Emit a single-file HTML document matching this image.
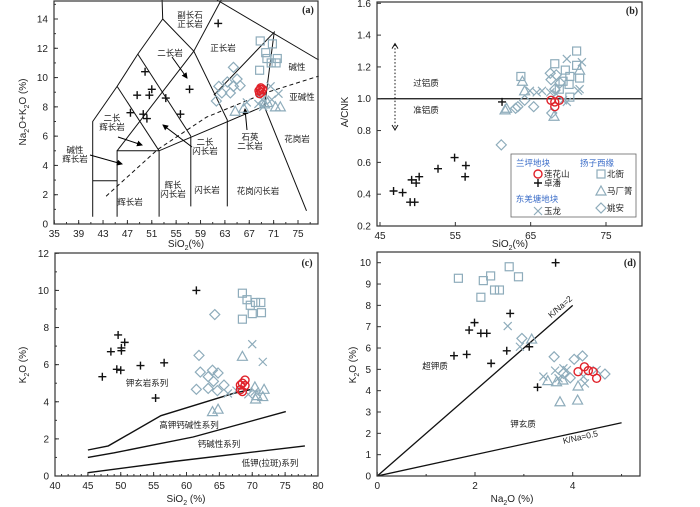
<!DOCTYPE html>
<html><head><meta charset="utf-8">
<style>
html,body{margin:0;padding:0;background:#fff;}
svg{display:block;font-family:"Liberation Sans","Noto Sans CJK SC",sans-serif;}
.t{font-size:10px;fill:#222;}
.cn{font-size:8.5px;fill:#222;}
</style></head>
<body>
<svg id="chart" width="700" height="507" viewBox="0 0 700 507" xmlns="http://www.w3.org/2000/svg">
<defs>
<marker id="ah" markerWidth="6" markerHeight="6" refX="5" refY="3" orient="auto"><path d="M0,0 L6,3 L0,6 z" fill="#000"/></marker>
</defs>
</svg>
<script>
// ---------- Panel (a) TAS data ----------
const aCross=[[61.9,13.7],[49.9,10.4],[51.0,9.2],[50.6,8.8],[48.6,8.8],[47.5,7.6],[49.6,7.5],[50.2,7.2],[53.3,8.6],[55.7,7.5],[57.2,9.2]];
const aSquare=[[68.8,12.5],[70.8,12.3],[69.7,11.7],[69.9,11.3],[71.6,11.3],[70.6,11.0],[68.7,10.5],[71.4,11.0]];
const aDiamond=[[64.4,10.7],[62.0,9.4],[63.4,9.7],[64.4,9.4],[63.9,8.95],[65.5,9.45],[62.5,8.95],[65.0,9.9],[61.6,8.4]];
const aTriangle=[[64.7,7.7],[71.3,8.0],[72.1,8.0],[66.1,7.9],[69.5,8.2],[70.0,8.3]];
const aX=[[66.6,8.3],[70.5,9.4],[71.8,8.9],[69.1,8.5],[68.8,9.0],[70.7,8.5],[68.5,8.2],[69.3,8.0]];
const aCircle=[[68.6,9.1],[68.9,9.3],[69.2,9.2],[68.7,8.9],[69.0,9.0],[68.8,9.2]];
// ---------- Panel (b) A/CNK ----------
const bCross=[[46.8,0.42],[48.0,0.41],[49.0,0.35],[49.6,0.35],[49.2,0.49],[49.8,0.47],[50.2,0.51],[52.7,0.56],[54.9,0.63],[56.4,0.58],[56.3,0.51],[61.2,0.98]];
const bSquare=[[63.7,1.14],[68.2,1.22],[71.1,1.30],[71.1,1.21],[69.6,1.18],[70.2,1.14],[71.5,1.13],[70.1,1.09],[68.8,1.06],[70.2,1.01],[69.3,1.11]];
const bTriangle=[[61.6,0.93],[63.9,1.11],[68.1,0.89],[71.5,1.18],[64.2,1.05],[61.8,0.94]];
const bDiamond=[[61.1,0.71],[63.3,0.95],[65.4,0.95],[64.2,0.99],[67.8,0.91],[67.6,1.16],[68.4,1.15],[67.7,1.12],[68.2,1.06],[68.9,1.10],[63.0,0.94]];
const bX=[[69.8,1.25],[71.8,1.23],[65.8,1.04],[71.5,1.06],[71.3,1.05],[69.3,0.99],[66.5,1.05],[64.9,1.05],[69.8,0.98],[67.6,1.04],[68.4,1.03]];
const bCircle=[[67.7,0.99],[68.2,0.98],[68.8,0.99],[68.2,0.95]];
// ---------- Panel (c) K2O vs SiO2 ----------
const cCross=[[61.5,10.0],[49.6,7.6],[50.6,7.2],[48.5,6.7],[50.1,6.9],[50.1,6.75],[47.2,5.35],[49.4,5.75],[50.0,5.7],[53.0,5.95],[56.6,6.1],[55.3,4.2]];
const cSquare=[[68.5,9.85],[69.2,9.5],[69.7,9.2],[70.5,9.35],[71.3,9.35],[70.0,8.75],[71.4,8.8],[68.5,8.45]];
const cDiamond=[[64.3,8.7],[61.9,6.5],[62.1,5.6],[63.95,5.7],[64.8,5.55],[63.3,5.35],[61.5,4.67],[63.3,4.72],[64.7,4.6],[65.7,4.9],[64.1,5.1]];
const cTriangle=[[68.5,6.45],[63.95,3.47],[64.8,3.6],[71.6,4.28],[70.7,4.33],[71.8,4.67],[70.4,4.8],[70.5,4.15]];
const cX=[[70.0,7.1],[71.6,6.15],[66.3,4.45],[70.4,4.55],[69.4,4.4],[67.6,4.6]];
const cCircle=[[68.9,5.17],[68.2,4.9],[68.5,5.0],[68.5,4.55],[68.9,4.87],[68.2,4.65]];
const cLine1=[[45,1.4],[48.1,1.62],[56.1,3.25],[67.1,4.45],[69.9,4.67]];
const cLine2=[[45,1.0],[49,1.25],[61,2.1],[75.1,3.47]];
const cLine3=[[45,0.18],[58,0.78],[78,1.62]];
// ---------- Panel (d) K2O vs Na2O ----------
const dCross=[[3.65,10.0],[2.72,7.62],[1.99,7.19],[1.88,6.84],[2.12,6.69],[2.24,6.69],[1.57,5.64],[1.83,5.70],[2.65,5.87],[3.11,6.06],[2.33,5.28],[3.28,4.16]];
const dSquare=[[1.66,9.27],[2.17,9.16],[2.32,9.38],[2.70,9.81],[2.89,9.34],[2.12,8.38],[2.40,8.72],[2.50,8.72]];
const dX=[[2.67,7.03],[2.92,6.06],[3.81,5.05],[3.64,4.94],[3.40,4.66],[3.71,4.58],[4.22,4.66],[4.49,4.97],[4.25,4.34],[3.88,4.97]];
const dDiamond=[[2.96,6.45],[3.62,5.59],[4.03,5.47],[4.20,5.63],[4.66,4.78],[3.81,4.81],[3.95,4.6]];
const dTriangle=[[3.16,6.42],[3.74,3.48],[4.10,3.56],[3.49,4.47],[4.11,4.22],[3.67,4.42],[3.8,4.5]];
const dCircle=[[4.11,4.89],[4.24,5.12],[4.32,4.94],[4.42,4.89],[4.49,4.58]];
const dRatios=[2,0.5];
const dRatioMax=[4,5];

const NS="http://www.w3.org/2000/svg";
const svg=document.getElementById('chart');
const GREY="#8eacbb", RED="#e0222a", BLUE="#3a6cc8";
function el(tag,attrs,parent){const e=document.createElementNS(NS,tag);for(const k in attrs)e.setAttribute(k,attrs[k]);(parent||svg).appendChild(e);return e;}
function scale(d0,d1,p0,p1){return v=>p0+(v-d0)*(p1-p0)/(d1-d0);}
function txt(x,y,s,cls,anchor,name,parent){const t=el('text',{x:x,y:y,class:cls||'t','text-anchor':anchor||'middle'},parent);t.textContent=s;


return t;}
function marker(type,x,y,g){let e;
 if(type==='cross'){e=el('path',{d:`M${x-4},${y}H${x+4}M${x},${y-4}V${y+4}`,stroke:'#111','stroke-width':1.4},g);}
 else if(type==='x'){e=el('path',{d:`M${x-4},${y-4}L${x+4},${y+4}M${x-4},${y+4}L${x+4},${y-4}`,stroke:GREY,'stroke-width':1.2},g);}
 else if(type==='square'){e=el('rect',{x:x-4,y:y-4,width:8,height:8,fill:'none',stroke:GREY,'stroke-width':1.2},g);}
 else if(type==='diamond'){e=el('path',{d:`M${x},${y-5}L${x+5},${y}L${x},${y+5}L${x-5},${y}Z`,fill:'none',stroke:GREY,'stroke-width':1.2},g);}
 else if(type==='triangle'){e=el('path',{d:`M${x},${y-5}L${x+5},${y+4}L${x-5},${y+4}Z`,fill:'none',stroke:GREY,'stroke-width':1.2},g);}
 else {e=el('circle',{cx:x,cy:y,r:4,fill:'none',stroke:RED,'stroke-width':1.4},g);}
 
 
}
function series(arr,type,sx,sy,g){arr.forEach(p=>marker(type,sx(p[0]),sy(p[1]),g));}
function poly(arr,sx,sy,g,extra){const d=arr.map((p,i)=>(i?'L':'M')+sx(p[0]).toFixed(1)+','+sy(p[1]).toFixed(1)).join('');return el('path',Object.assign({d:d,fill:'none',stroke:'#111','stroke-width':1},extra||{}),g);}
function frame(g,x0,y0,x1,y1){const r=el('rect',{x:x0,y:y0,width:x1-x0,height:y1-y0,fill:'none',stroke:'#333','stroke-width':1.2},g);
 
 }
function axes(g,sx,sy,xt,yt,xfmt,yfmt,x0,y0,x1,y1,xminor,yminor){
 xt.forEach(v=>{const x=sx(v);el('line',{x1:x,x2:x,y1:y1,y2:y1-4,stroke:'#333'},g);txt(x,y1+13,xfmt(v),'t','middle','x-tick-label',g);});
 yt.forEach(v=>{const y=sy(v);el('line',{x1:x0,x2:x0+4,y1:y,y2:y,stroke:'#333'},g);txt(x0-6,y+3.5,yfmt(v),'t','end','y-tick-label',g);});
 (xminor||[]).forEach(v=>{const x=sx(v);el('line',{x1:x,x2:x,y1:y1,y2:y1-2,stroke:'#333'},g);});
 (yminor||[]).forEach(v=>{const y=sy(v);el('line',{x1:x0,x2:x0+2,y1:y,y2:y,stroke:'#333'},g);});
}
function range(a,b,s){const r=[];for(let v=a;v<=b+1e-9;v+=s)r.push(+v.toFixed(4));return r;}
function group(name){const g=el('g',{});return g;}

// ===== Panel a =====
(function(){
 const g=group('panel-a-tas');
 const sx=scale(35,75,54.3,298), sy=scale(0,14,224,19);
 const lines=[
  [[41.3,0.5],[41.3,7.0],[45.3,9.4],[48.7,11.6],[52.8,14.0],[52.7,15.3]],
  [[52.8,14.0],[57.9,11.8],[63.4,7.1],[63.4,1.2]],
  [[57.9,11.8],[62.4,15.3]],
  [[61.7,15.3],[78.4,11.2]],
  [[61.2,8.8],[71.1,13.1],[69.5,8.0],[76.4,0.9]],
  [[45.3,0.5],[45.3,5.0],[52.2,5.0],[69.7,8.1]],
  [[52.2,0.5],[52.2,5.0]],
  [[57.4,1.2],[57.4,6.0]],
  [[41.3,2.95],[45.3,2.95]],
  [[45.3,9.4],[52.2,5.0]],
  [[48.7,11.6],[57.4,6.0]],
  [[45.3,5.0],[57.9,11.8]]
 ];
 lines.forEach(l=>{const p=poly(l,sx,sy,g);});
 const dash=poly([[43.5,1.9],[52,5.1],[60,7.3],[70,9.0],[78.4,10.1]],sx,sy,g,{'stroke-dasharray':'4,3'});
 
 const arrows=[[[172,57],[187,78]],[[118,137],[142,145]],[[90,155],[122,164]],[[192,147],[163,125]],[[247,130],[245,109]]];
 arrows.forEach(a=>{const l=el('line',{x1:a[0][0],y1:a[0][1],x2:a[1][0],y2:a[1][1],stroke:'#000','stroke-width':1,'marker-end':'url(#ah)'},g);});
 const labels=[[190,18,'副长石'],[190,27,'正长岩'],[223,51,'正长岩'],[170,56,'二长岩'],[297,70,'碱性'],[302,100,'亚碱性'],[112,121,'二长'],[112,130,'辉长岩'],[75,153,'碱性'],[75,162,'辉长岩'],[205,145,'二长'],[205,154,'闪长岩'],[250,140,'石英'],[250,149,'二长岩'],[297,142,'花岗岩'],[173,188,'辉长'],[173,197,'闪长岩'],[207,193,'闪长岩'],[258,194,'花岗闪长岩'],[130,205,'辉长岩']];
 labels.forEach(l=>txt(l[0],l[1],l[2],'cn','middle','rock-field-label',g));
 series(aDiamond,'diamond',sx,sy,g);series(aSquare,'square',sx,sy,g);series(aTriangle,'triangle',sx,sy,g);series(aX,'x',sx,sy,g);series(aCross,'cross',sx,sy,g);series(aCircle,'circle',sx,sy,g);
 frame(g,54,1,318,224);
 axes(g,sx,sy,range(35,75,4),range(0,14,2),v=>v,v=>v,54,1,318,224,range(35,77,2),range(0,15,1));
 const pl=txt(308,13,'(a)','t','middle','panel-a-tag',g);pl.setAttribute('style','font-family:Liberation Serif;font-weight:bold;font-size:10px');
 const xl=txt(186,247,'SiO','t','middle','x-axis-title',g);const s=el('tspan',{dy:3,'font-size':7},xl);s.textContent='2';const s2=el('tspan',{dy:-3},xl);s2.textContent='(%)';
 const yl=el('text',{x:0,y:0,class:'t','text-anchor':'middle',transform:'translate(26,112) rotate(-90)'},g);
 
 yl.innerHTML='Na<tspan dy="3" font-size="7">2</tspan><tspan dy="-3">O+K</tspan><tspan dy="3" font-size="7">2</tspan><tspan dy="-3">O (%)</tspan>';
})();

// ===== Panel b =====
(function(){
 const g=group('panel-b-acnk');
 const sx=scale(45,75,380,606), sy=scale(0.2,1.6,226,3.3);
 const h=el('line',{x1:377,x2:642,y1:sy(1),y2:sy(1),stroke:'#111','stroke-width':1.2},g);
 const da=el('line',{x1:395,x2:395,y1:sy(1.34),y2:sy(0.81),stroke:'#111','stroke-dasharray':'1.5,2'},g);
 el('path',{d:`M392,${sy(1.34)+4}L395,${sy(1.34)-1}L398,${sy(1.34)+4}M392,${sy(0.81)-4}L395,${sy(0.81)+1}L398,${sy(0.81)-4}`,fill:'none',stroke:'#111'},g);
 txt(426,86,'过铝质','cn','middle','peraluminous-label',g).setAttribute('font-size','9.5');
 txt(426,113,'准铝质','cn','middle','metaluminous-label',g).setAttribute('font-size','9.5');
 series(bDiamond,'diamond',sx,sy,g);series(bSquare,'square',sx,sy,g);series(bTriangle,'triangle',sx,sy,g);series(bX,'x',sx,sy,g);series(bCross,'cross',sx,sy,g);series(bCircle,'circle',sx,sy,g);
 frame(g,377,2,642,226);
 axes(g,sx,sy,[45,55,65,75],range(0.2,1.6,0.2),v=>v,v=>v.toFixed(1),377,2,642,226);
 const pl=txt(632,14,'(b)','t','middle','panel-b-tag',g);pl.setAttribute('style','font-family:Liberation Serif;font-weight:bold;font-size:10px');
 const xl=txt(510,247,'SiO','t','middle','x-axis-title',g);const s=el('tspan',{dy:3,'font-size':7},xl);s.textContent='2';const s2=el('tspan',{dy:-3},xl);s2.textContent='(%)';
 const yl=txt(0,0,'A/CNK','t','middle','y-axis-title',g);yl.setAttribute('transform','translate(348,112) rotate(-90)');
 // legend
 const lg=group('legend');g.appendChild(lg);
 const lb=el('rect',{x:511,y:154,width:125,height:63,fill:'#fff',stroke:'#666','stroke-width':0.8},lg);
 const h1=txt(533,166,'兰坪地块','cn','middle','legend-group-lanping',lg);h1.setAttribute('fill',BLUE);h1.style.fill=BLUE;
 const h2=txt(597,166,'扬子西缘','cn','middle','legend-group-yangtze',lg);h2.style.fill=BLUE;
 const h3=txt(537,202,'东羌塘地块','cn','middle','legend-group-qiangtang',lg);h3.style.fill=BLUE;
 const ents=[['circle',538,174,'莲花山'],['cross',538,183,'卓潘'],['x',538,211,'玉龙'],['square',601,174,'北衙'],['triangle',601,191,'马厂箐'],['diamond',601,208,'姚安']];
 ents.forEach(e=>{const gg=group('legend-entry');lg.appendChild(gg);marker(e[0],e[1],e[2],gg);txt(e[1]+6,e[2]+3,e[3],'cn','start','legend-label',gg);});
})();

// ===== Panel c =====
(function(){
 const g=group('panel-c-k2o-sio2');
 const sx=scale(40,80,55,318), sy=scale(0,12,476,253.3);
 [cLine1,cLine2,cLine3].forEach((l,i)=>{const p=poly(l,sx,sy,g,{'stroke-width':1.4});});
 txt(147,386,'钾玄岩系列','cn','middle','shoshonite-series-label',g).setAttribute('font-size','9.5');
 txt(189,428,'高钾钙碱性系列','cn','middle','high-k-calc-alkaline-label',g).setAttribute('font-size','9.5');
 txt(219,447,'钙碱性系列','cn','middle','calc-alkaline-label',g).setAttribute('font-size','9.5');
 txt(270,466,'低钾(拉斑)系列','cn','middle','low-k-tholeiite-label',g).setAttribute('font-size','9.5');
 series(cDiamond,'diamond',sx,sy,g);series(cSquare,'square',sx,sy,g);series(cTriangle,'triangle',sx,sy,g);series(cX,'x',sx,sy,g);series(cCross,'cross',sx,sy,g);series(cCircle,'circle',sx,sy,g);
 frame(g,55,253,318,476);
 axes(g,sx,sy,range(40,80,5),range(0,12,2),v=>v,v=>v,55,253,318,476,range(40,80,1),range(0,12,1));
 const pl=txt(307,266,'(c)','t','middle','panel-c-tag',g);pl.setAttribute('style','font-family:Liberation Serif;font-weight:bold;font-size:10px');
 const xl=txt(186,502,'SiO','t','middle','x-axis-title',g);const s=el('tspan',{dy:3,'font-size':7},xl);s.textContent='2';const s2=el('tspan',{dy:-3},xl);s2.textContent=' (%)';
 const yl=el('text',{x:0,y:0,class:'t','text-anchor':'middle',transform:'translate(26,365) rotate(-90)'},g);
 
 yl.innerHTML='K<tspan dy="3" font-size="7">2</tspan><tspan dy="-3">O (%)</tspan>';
})();

// ===== Panel d =====
(function(){
 const g=group('panel-d-k2o-na2o');
 const sx=scale(0,4,377.3,572.7), sy=scale(0,10,476,262.7);
 dRatios.forEach((r,i)=>{const p=poly([[0,0],[dRatioMax[i],dRatioMax[i]*r]],sx,sy,g,{'stroke-width':1.3});});
 const l1=txt(0,0,'K/Na=2','cn','middle','ratio-2-label',g);l1.setAttribute('transform','translate(562,309) rotate(-41)');l1.setAttribute('font-size','9.5');
 const l2=txt(0,0,'K/Na=0.5','cn','middle','ratio-05-label',g);l2.setAttribute('transform','translate(581,440) rotate(-12.5)');l2.setAttribute('font-size','9.5');
 txt(435,369,'超钾质','cn','middle','ultrapotassic-label',g).setAttribute('font-size','9.5');
 txt(523,427,'钾玄质','cn','middle','shoshonitic-label',g).setAttribute('font-size','9.5');
 series(dDiamond,'diamond',sx,sy,g);series(dSquare,'square',sx,sy,g);series(dTriangle,'triangle',sx,sy,g);series(dX,'x',sx,sy,g);series(dCross,'cross',sx,sy,g);series(dCircle,'circle',sx,sy,g);
 frame(g,377,252,640,476);
 axes(g,sx,sy,[0,2,4],range(0,10,1),v=>v,v=>v,377,252,640,476,[1,3,5]);
 const pl=txt(630,266,'(d)','t','middle','panel-d-tag',g);pl.setAttribute('style','font-family:Liberation Serif;font-weight:bold;font-size:10px');
 const xl=txt(512,502,'Na','t','middle','x-axis-title',g);const s=el('tspan',{dy:3,'font-size':7},xl);s.textContent='2';const s2=el('tspan',{dy:-3},xl);s2.textContent='O (%)';
 const yl=el('text',{x:0,y:0,class:'t','text-anchor':'middle',transform:'translate(356,365) rotate(-90)'},g);
 
 yl.innerHTML='K<tspan dy="3" font-size="7">2</tspan><tspan dy="-3">O (%)</tspan>';
})();
</script>
</body></html>
